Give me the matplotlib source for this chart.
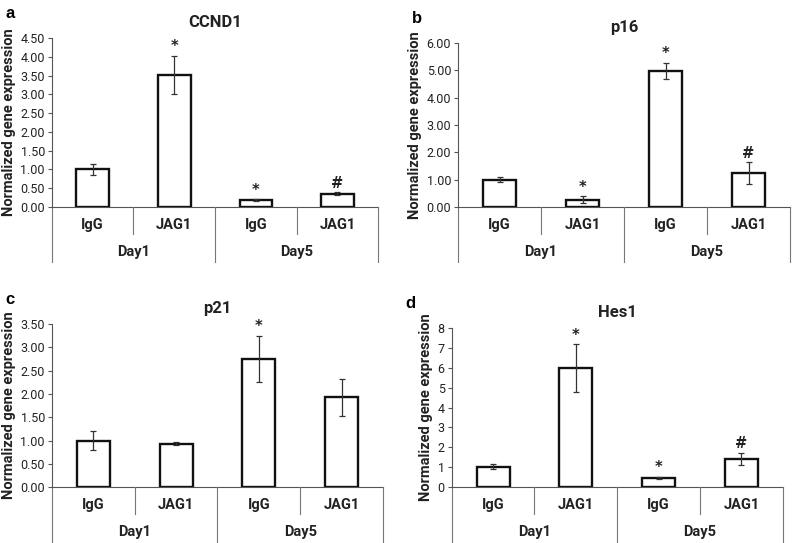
import matplotlib.pyplot as plt
from matplotlib import transforms

plt.rcParams['font.family'] = ['Roboto', 'DejaVu Sans']

groups = ['IgG', 'JAG1', 'IgG', 'JAG1']
days = ['Day1', 'Day5']

# panel data: means, errors, markers above bars
ccnd1_mean = [1.00, 3.52, 0.18, 0.35]
ccnd1_err = [0.15, 0.51, 0.02, 0.04]
ccnd1_mark = ['', '*', '*', '#']

p16_mean = [1.00, 0.27, 4.97, 1.23]
p16_err = [0.09, 0.11, 0.30, 0.40]
p16_mark = ['', '*', '*', '#']

p21_mean = [1.00, 0.93, 2.75, 1.93]
p21_err = [0.20, 0.03, 0.50, 0.40]
p21_mark = ['', '', '*', '']

hes1_mean = [1.02, 5.97, 0.48, 1.42]
hes1_err = [0.12, 1.20, 0.05, 0.30]
hes1_mark = ['', '*', '*', '#']

W, H = 798, 543
fig = plt.figure(figsize=(W / 100, H / 100), dpi=100)
txt = '#222222'


def panel(rect, letter, title, mean, err, mark, ymax, step, fmt):
    ax = fig.add_axes(rect)
    x = [0.5, 1.5, 2.5, 3.5]
    ax.bar(x, mean, width=0.4, color='white', edgecolor='#111111', linewidth=1.7, zorder=2)
    ax.errorbar(x, mean, yerr=err, fmt='none', ecolor='#333333', elinewidth=0.9,
                capsize=2.5, capthick=0.9, zorder=3)
    for xi, m, e, s in zip(x, mean, err, mark):
        if s:
            ax.annotate(s, (xi, m + e), xytext=(0, 1), textcoords='offset points',
                        ha='center', va='bottom', fontsize=10.5, fontweight='bold',
                        color=txt, family='DejaVu Sans')
    ax.set_xlim(0, 4)
    ax.set_ylim(0, ymax)
    ticks = [i * step for i in range(int(round(ymax / step)) + 1)]
    ax.set_yticks(ticks)
    ax.set_yticklabels([fmt.format(t) for t in ticks], fontsize=9, color=txt)
    ax.tick_params(axis='y', length=3, width=0.8, color='#555555', pad=2)
    ax.set_xticks([])
    for sp in ['top', 'right', 'bottom']:
        ax.spines[sp].set_visible(False)
    ax.spines['left'].set_color('#555555')
    ax.spines['left'].set_linewidth(0.8)
    ax.set_ylabel('Normalized gene expression', fontsize=10.5, fontweight='bold',
                  color=txt, labelpad=3)
    ax.set_title(title, fontsize=12, fontweight='bold', color=txt, pad=8)

    # two-level category axis
    hpx = rect[3] * H
    tr = transforms.blended_transform_factory(ax.transData, ax.transAxes)
    ax.plot([0, 4], [0, 0], color='#555555', lw=0.8, transform=tr, clip_on=False)
    for xs in [1, 3]:
        ax.plot([xs, xs], [0, -27 / hpx], color='#777777', lw=0.8, transform=tr, clip_on=False)
    for xs in [0, 2, 4]:
        ax.plot([xs, xs], [0, -55 / hpx], color='#777777', lw=0.8, transform=tr, clip_on=False)
    for xi, g in zip(x, groups):
        ax.text(xi, -18 / hpx, g, transform=tr, ha='center', va='center',
                fontsize=10.5, fontweight='bold', color=txt)
    for xi, d in zip([1, 3], days):
        ax.text(xi, -45 / hpx, d, transform=tr, ha='center', va='center',
                fontsize=10.5, fontweight='bold', color=txt)

    fig.text(rect[0] - 0.058, rect[1] + rect[3] + 0.045, letter, fontsize=12,
             fontweight='bold', family='Liberation Sans', va='center')
    return ax


panel([0.065, 0.619, 0.409, 0.311], 'a', 'CCND1', ccnd1_mean, ccnd1_err, ccnd1_mark, 4.5, 0.5, '{:.2f}')
panel([0.574, 0.619, 0.416, 0.302], 'b', 'p16', p16_mean, p16_err, p16_mark, 6.0, 1.0, '{:.2f}')
panel([0.065, 0.103, 0.415, 0.300], 'c', 'p21', p21_mean, p21_err, p21_mark, 3.5, 0.5, '{:.2f}')
panel([0.566, 0.103, 0.415, 0.293], 'd', 'Hes1', hes1_mean, hes1_err, hes1_mark, 8, 1, '{:.0f}')

fig.savefig('out.png', dpi=100)
